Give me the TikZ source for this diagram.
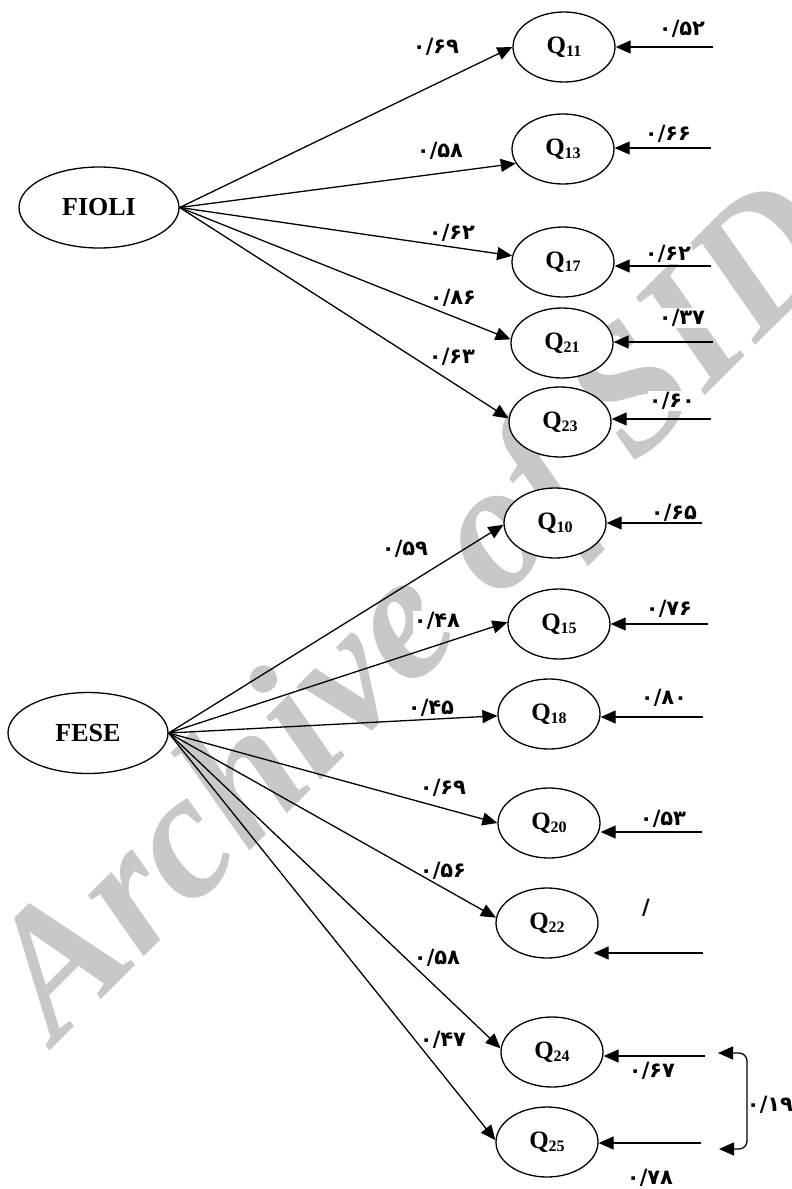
\documentclass[tikz,border=0pt]{standalone}
\usepackage{fontspec}
\setmainfont{Liberation Serif}
\newfontfamily\fa{DejaVu Sans}
\usetikzlibrary{arrows.meta,shapes.geometric}
\definecolor{wmgray}{RGB}{200,200,200}
\newcommand\Qsub[1]{Q\raisebox{-3pt}{\fontsize{16}{16}\selectfont #1}}
\begin{document}
\begin{tikzpicture}[x=1pt,y=-1pt,
  lat/.style={draw, ellipse, line width=1.3pt, fill=white, minimum width=160pt, minimum height=81pt, inner sep=0pt, font=\fontsize{26}{26}\selectfont\bfseries},
  obs/.style={draw, ellipse, line width=1.3pt, fill=white, minimum width=102pt, minimum height=70pt, inner sep=0pt, font=\fontsize{25}{25}\selectfont\bfseries},
  num/.style={fill=white, inner sep=1pt, font=\fontsize{21}{21}\selectfont\fa\bfseries},
  arr/.style={line width=1.3pt, -{Triangle[length=15pt,width=13pt]}},
  cov/.style={line width=1.3pt, {Triangle[length=15pt,width=13pt]}-{Triangle[length=15pt,width=13pt]}, rounded corners=8pt},
  wm/.style={anchor=base west, rotate=45, text=wmgray, inner sep=0pt, font=\fontsize{180}{180}\selectfont\bfseries\itshape}
]
\useasboundingbox (0,0) rectangle (792,1189);
\clip (0,0) rectangle (792,1189);
% watermark
\node[wm] (wmark) at (56,1045) {Archive of SID};

% latent variables
\node[lat] (FIOLI) at (99,207.5) {FIOLI};
\node[lat] (FESE) at (88,733) {FESE};

% observed variables
\node[obs] (Q11) at (564,47) {\Qsub{11}};
\node[obs] (Q13) at (563,149) {\Qsub{13}};
\node[obs] (Q17) at (563,262) {\Qsub{17}};
\node[obs] (Q21) at (562,343) {\Qsub{21}};
\node[obs] (Q23) at (560,422) {\Qsub{23}};
\node[obs] (Q10) at (555,523) {\Qsub{10}};
\node[obs] (Q15) at (559,624) {\Qsub{15}};
\node[obs] (Q18) at (549,714) {\Qsub{18}};
\node[obs] (Q20) at (549,823) {\Qsub{20}};
\node[obs] (Q22) at (547,923) {\Qsub{22}};
\node[obs] (Q24) at (552,1052) {\Qsub{24}};
\node[obs] (Q25) at (547,1142) {\Qsub{25}};

% loading labels
\node[num] (l11) at (436,47) {۰/۶۹};
\node[num] (l13) at (440,151) {۰/۵۸};
\node[num] (l17) at (452,233) {۰/۶۲};
\node[num] (l21) at (453,298) {۰/۸۶};
\node[num] (l23) at (452,357) {۰/۶۳};
\node[num] (l10) at (405,549) {۰/۵۹};
\node[num] (l15) at (437,621) {۰/۴۸};
\node[num] (l18) at (431,708) {۰/۴۵};
\node[num] (l20) at (443,788) {۰/۶۹};
\node[num] (l22) at (443,871) {۰/۵۶};
\node[num] (l24) at (437,958) {۰/۵۸};
\node[num] (l25) at (443,1040) {۰/۴۷};

% error labels
\node[num] (m11) at (682,29) {۰/۵۲};
\node[num] (m13) at (668,134) {۰/۶۶};
\node[num] (m17) at (668,254) {۰/۶۲};
\node[num] (m21) at (682,318) {۰/۳۷};
\node[num] (m23) at (672,401) {۰/۶۰};
\node[num] (m10) at (674,513) {۰/۶۵};
\node[num] (m15) at (669,609) {۰/۷۶};
\node[num] (m18) at (664,698) {۰/۸۰};
\node[num] (m20) at (663,819) {۰/۵۳};
\node[num] (m22) at (646,908) {/};
\node[num] (m24) at (652,1071) {۰/۶۷};
\node[num] (m25) at (650,1178) {۰/۷۸};
\node[num, fill=none] (m19) at (770,1105) {۰/۱۹};

% error free ends
\coordinate (e11) at (713,47);
\coordinate (e13) at (711,148);
\coordinate (e17) at (711,266);
\coordinate (e21) at (713,342);
\coordinate (e23) at (711,419);
\coordinate (e10) at (702,523);
\coordinate (e15) at (708,624);
\coordinate (e18) at (703,717);
\coordinate (e20) at (702,832);
\coordinate (e22) at (703,953);
\coordinate (e24) at (705,1056);
\coordinate (e25) at (701,1143);
\coordinate (c24) at (718,1053);
\coordinate (c25) at (719,1149);
\coordinate (bx) at (747,1100);

% loadings
\draw[arr] (FIOLI.east) -- (Q11.west);
\draw[arr] (FIOLI.east) -- (Q13.197);
\draw[arr] (FIOLI.east) -- (Q17.173);
\draw[arr] (FIOLI.east) -- (Q21.176);
\draw[arr] (FIOLI.east) -- (Q23.176);
\draw[arr] (FESE.east) -- (Q10.182);
\draw[arr] (FESE.east) -- (Q15.178);
\draw[arr] (FESE.east) -- (Q18.182);
\draw[arr] (FESE.east) -- (Q20.west);
\draw[arr] (FESE.east) -- (Q22.174);
\draw[arr] (FESE.east) -- (Q24.176);
\draw[arr] (FESE.east) -- (Q25.178);

% errors
\draw[arr] (e11) -- (Q11.east |- e11);
\draw[arr] (e13) -- (Q13.east |- e13);
\draw[arr] (e17) -- (Q17.east |- e17);
\draw[arr] (e21) -- (Q21.east |- e21);
\draw[arr] (e23) -- (Q23.east |- e23);
\draw[arr] (e10) -- (Q10.east |- e10);
\draw[arr] (e15) -- (Q15.east |- e15);
\draw[arr] (e18) -- (Q18.east |- e18);
\draw[arr] (e20) -- (Q20.east |- e20);
\draw[arr, shorten >=-5pt] (e22) -- (Q22.east |- e22);
\draw[arr] (e24) -- (Q24.east |- e24);
\draw[arr] (e25) -- (Q25.east |- e25);

% covariance
\draw[cov] (c24) -- (c24 -| bx) -- (c25 -| bx) -- (c25);
\end{tikzpicture}
\end{document}
